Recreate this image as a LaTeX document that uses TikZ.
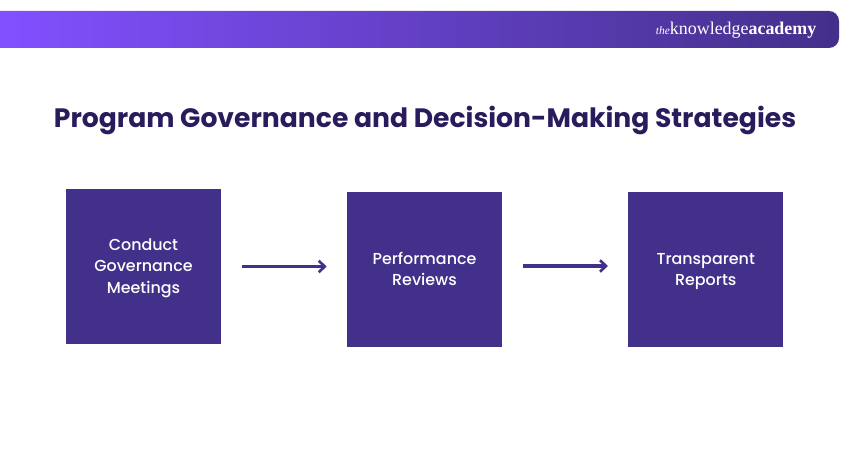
\documentclass[tikz,border=0pt]{standalone}
\usepackage{fontspec}
\setmainfont{Poppins}[UprightFont={* Medium},BoldFont={* Bold}]
\newfontfamily\logofont{Liberation Serif}
\usepackage{tikz}
\usetikzlibrary{arrows.meta,positioning,calc}
\definecolor{boxpurple}{HTML}{43308A}
\definecolor{titlepurple}{HTML}{2A1C5C}
\definecolor{bannerleft}{HTML}{8250FF}
\newcommand{\linedrop}{\rule{0pt}{8.6pt}}
\tikzset{
  stepbox/.style={fill=boxpurple,minimum size=3.1cm,inner sep=0pt,align=center,text=white,font=\fontsize{9.05}{12.2}\selectfont},
  flowarrow/.style={-{Straight Barb[length=1.2mm,width=2.3mm,line width=1.5pt]},line width=1.8pt,color=boxpurple,shorten <=0.42cm,shorten >=0.4cm}
}
\begin{document}
\begin{tikzpicture}
      \useasboundingbox (0,0) rectangle (17,9);
      \coordinate (A) at (2.87,3.67);
      \coordinate (B) at (8.49,3.61);
      \coordinate (C) at (14.115,3.61);

      \shade[left color=bannerleft,right color=boxpurple,rounded corners=0.2cm] (0,8.04) [sharp corners] -- (0,8.78) [rounded corners=0.2cm] -- (16.78,8.78) -- (16.78,8.04) [sharp corners] -- cycle;
      \node[text=white,font=\logofont\fontsize{10.2}{12}\selectfont,anchor=east] (logo) at (16.45,8.4) {{\fontsize{6.5}{8}\selectfont\itshape the}knowledge\textbf{academy}};

      \node[text=titlepurple,font=\fontsize{15.15}{18}\selectfont\bfseries] (title) at (8.5,6.59) {Program Governance and Decision-Making Strategies};

      \node[stepbox] (conduct) at (A) {\linedrop Conduct\\Governance\\Meetings};
      \node[stepbox] (reviews) at (B) {\linedrop Performance\\Reviews\vphantom{p}};
      \node[stepbox] (reports) at (C) {\linedrop Transparent\\Reports};

      \draw[flowarrow] (conduct.east) -- (conduct.east -| reviews.west);
      \draw[flowarrow] ([yshift=0.07cm]reviews.east) -- ([yshift=0.07cm]reports.west);

\end{tikzpicture}
\end{document}
